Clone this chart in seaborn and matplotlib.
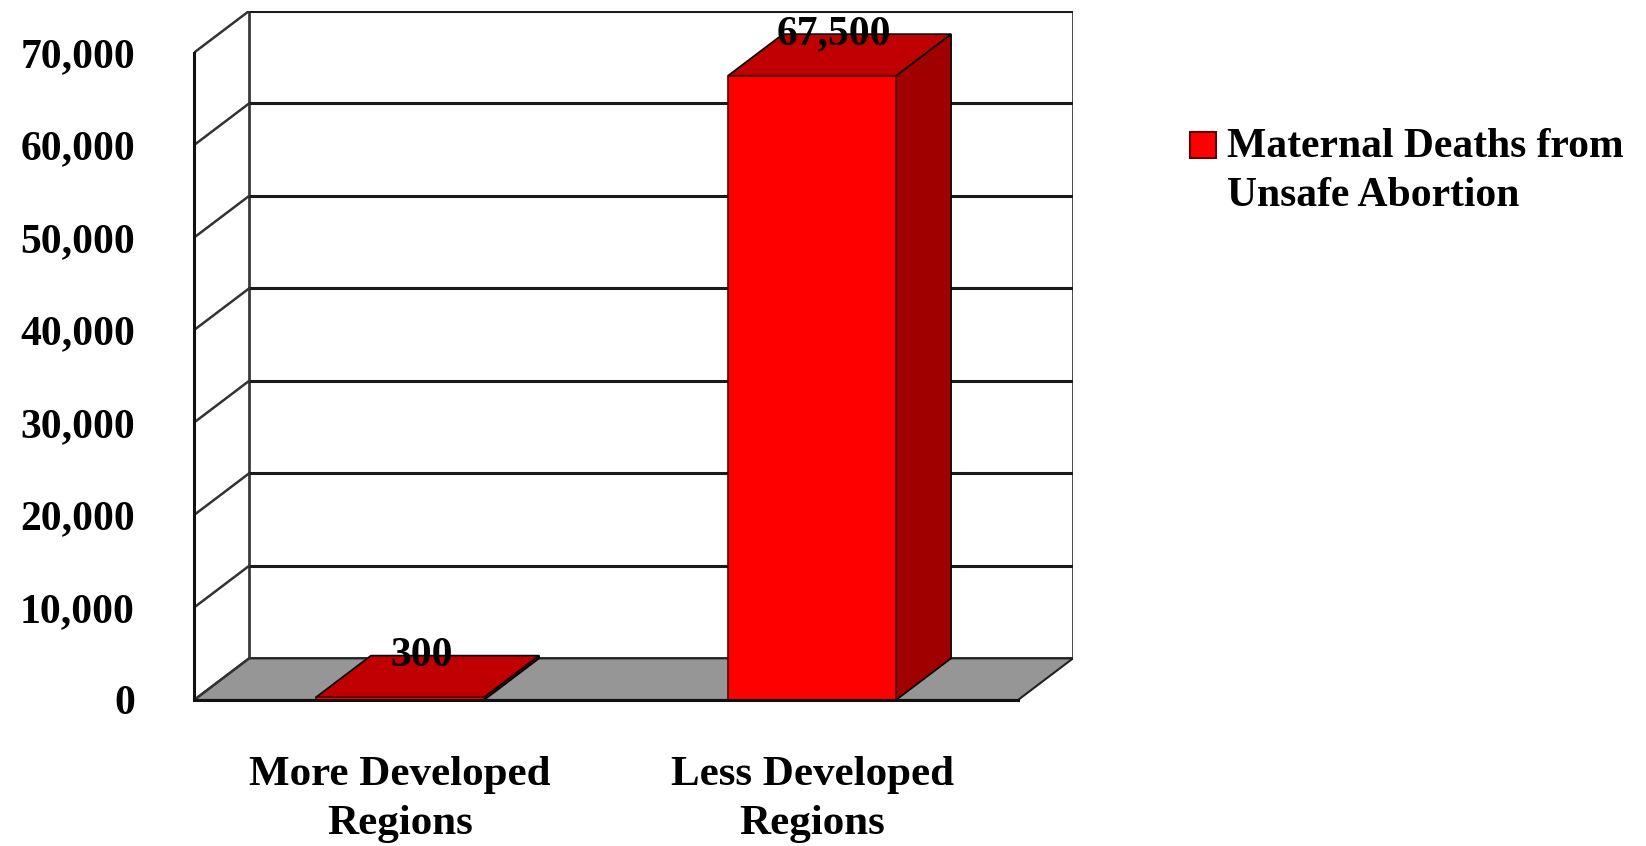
import matplotlib
matplotlib.use("Agg")
import matplotlib.pyplot as plt
from matplotlib.patches import Polygon, Patch, Rectangle
from matplotlib.legend_handler import HandlerPatch
import seaborn as sns
import pandas as pd

# data
regions = ["More Developed\nRegions", "Less Developed\nRegions"]
deaths = [300, 67500]
series_name = "Maternal Deaths from\nUnsafe Abortion"
y_ticks = [0, 10000, 20000, 30000, 40000, 50000, 60000, 70000]

FRONT = "#FF0000"
TOP = "#C00000"
SIDE = "#A00000"
FLOOR = "#969696"

# fake 3D depth offset
DX = 0.1335   # in category units
DY = 4500     # in data units

sns.set_style("white")
plt.rcParams["font.family"] = ["Liberation Serif", "DejaVu Serif"]
plt.rcParams["font.weight"] = "bold"
plt.rcParams["text.color"] = "black"
plt.rcParams["xtick.labelcolor"] = "black"
plt.rcParams["ytick.labelcolor"] = "black"

df = pd.DataFrame({"region": regions, "deaths": deaths})

fig = plt.figure(figsize=(16.46, 8.46), dpi=100)
ax = fig.add_axes([0.1179, 0.1726, 0.534, 0.8144])

sns.barplot(data=df, x="region", y="deaths", color=FRONT, saturation=1,
            width=0.408, errorbar=None, edgecolor="#500000", linewidth=1.2,
            ax=ax, zorder=3)
bars = list(ax.patches)

x0, x1 = -0.5, len(regions) - 0.5
ymax = y_ticks[-1]
ax.set_xlim(x0, x1 + DX)
ax.set_ylim(0, ymax + DY)

# back wall
ax.add_patch(Polygon([(x0 + DX, DY), (x1 + DX, DY), (x1 + DX, ymax + DY), (x0 + DX, ymax + DY)],
                     closed=True, facecolor="white", edgecolor="#3a3a3a", lw=2, zorder=0.2))
# floor
ax.add_patch(Polygon([(x0, 0), (x1, 0), (x1 + DX, DY), (x0 + DX, DY)],
                     closed=True, facecolor=FLOOR, edgecolor="#222222", lw=1.5, zorder=0.6))
# gridlines on back wall and left wall
for t in y_ticks[1:]:
    ax.plot([x0 + DX, x1 + DX], [t + DY, t + DY], color="#1a1a1a", lw=2.2, zorder=0.4)
for t in y_ticks:
    ax.plot([x0, x0 + DX], [t, t + DY], color="#333333", lw=1.8, zorder=0.7)

# top and side faces of each bar, plus value labels
for p, v in zip(bars, deaths):
    xl, w, h = p.get_x(), p.get_width(), p.get_height()
    side = [(xl + w, 0), (xl + w + DX, DY), (xl + w + DX, h + DY), (xl + w, h)]
    top = [(xl, h), (xl + w, h), (xl + w + DX, h + DY), (xl + DX, h + DY)]
    ax.add_patch(Polygon(side, closed=True, facecolor=SIDE, edgecolor="black", lw=1.2, zorder=2.9))
    ax.add_patch(Polygon(top, closed=True, facecolor=TOP, edgecolor="black", lw=1.2, zorder=2.9))
    ax.text(xl + w / 2 + 0.4 * DX, h + DY, f"{v:,}", ha="center", va="center",
            fontsize=30, fontweight="bold", zorder=5)

# axes
sns.despine(ax=ax, top=True, right=True)
ax.spines["left"].set_bounds(0, ymax)
ax.spines["bottom"].set_bounds(x0, x1)
for s in ("left", "bottom"):
    ax.spines[s].set_linewidth(2.2)
    ax.spines[s].set_color("#111111")
    ax.spines[s].set_zorder(4)
ax.set_yticks(y_ticks, [f"{t:,}" for t in y_ticks])
ax.tick_params(axis="y", length=8.6, width=1.5, color="#444444", pad=34, labelsize=30)
ax.tick_params(axis="x", which="major", length=0, pad=40, labelsize=31)
for lbl in ax.get_xticklabels():
    lbl.set_linespacing(1.38)
ax.set_xticks([0.5], minor=True)
ax.tick_params(axis="x", which="minor", length=13, width=1.5, color="#222222")
ax.set_xlabel("")
ax.set_ylabel("")


def top_square(legend, orig_handle, xdescent, ydescent, width, height, fontsize):
    # small square next to the first line of the label
    return Rectangle((-xdescent, -ydescent + height - width + 4.5), width, width)


handle = Patch(facecolor=FRONT, edgecolor="#600000", linewidth=1.5)
leg = fig.legend([handle], [series_name], loc="upper left",
                 bbox_to_anchor=(1190 / 1646, 1 - 128 / 846), frameon=False,
                 prop={"size": 30, "weight": "bold"}, handlelength=0.62, handleheight=2.2,
                 handletextpad=0.26, borderpad=0, borderaxespad=0,
                 handler_map={Patch: HandlerPatch(patch_func=top_square)})
for t in leg.get_texts():
    t.set_linespacing(1.38)

fig.savefig("out.png", dpi=100)
